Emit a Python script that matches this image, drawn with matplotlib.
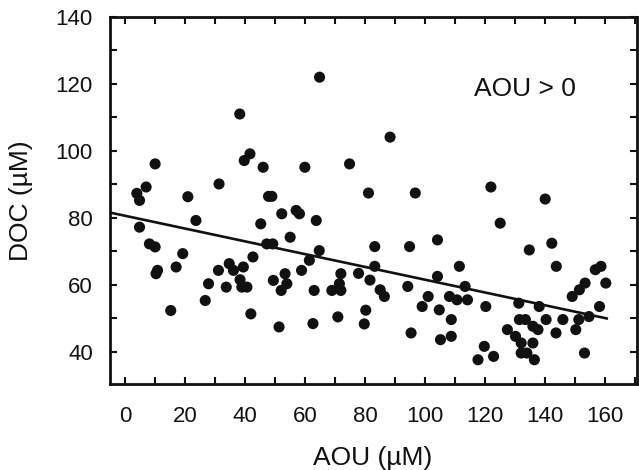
import matplotlib
matplotlib.use("Agg")
import matplotlib.pyplot as plt
import numpy as np
from matplotlib.ticker import MultipleLocator

plt.rcParams['font.family'] = ['Liberation Sans', 'DejaVu Sans']

aou = [3.9, 4.8, 7.0, 10.0, 20.9, 31.3, 38.2, 39.7, 41.6, 46.0, 47.8, 48.9, 59.9, 64.8, 74.8,
       81.1, 88.3, 96.7, 121.9, 140.0, 4.8, 23.6, 8.1, 10.0, 19.2, 10.8, 10.3, 17.0, 15.2, 27.8,
       26.7, 31.1, 33.7, 34.7, 36.1, 38.3, 39.4, 38.9, 40.6, 42.6, 41.9, 45.2, 47.2, 49.2, 52.2,
       57.0, 58.1, 55.0, 63.7, 64.7, 61.4, 58.8, 53.3, 53.9, 52.0, 49.4, 51.3, 63.0, 62.6, 71.9,
       71.4, 71.9, 68.9, 70.9, 77.8, 80.2, 79.7, 81.6, 125.0, 104.1, 83.2, 94.8, 134.7, 142.2,
       143.7, 83.2, 85.0, 86.4, 94.2, 95.3, 99.0, 101.0, 104.1, 104.7, 105.1, 108.7, 108.7, 111.4,
       108.1, 110.6, 113.3, 114.1, 120.2, 119.7, 117.6, 122.8, 127.4, 130.1, 131.2, 131.4, 133.4,
       132.0, 132.0, 133.9, 135.9, 137.6, 135.9, 136.4, 138.0, 140.3, 143.6, 145.9, 149.0, 151.4,
       153.3, 150.2, 151.2, 154.6, 153.1, 156.7, 158.6, 160.2, 158.1]
doc = [87.3, 85.2, 89.2, 96.1, 86.3, 90.1, 111.0, 97.1, 99.1, 95.1, 86.4, 86.4, 95.1, 122.0, 96.1,
       87.4, 104.1, 87.4, 89.2, 85.6, 77.2, 79.2, 72.2, 71.3, 69.3, 64.3, 63.3, 65.3, 52.3, 60.3,
       55.3, 64.3, 59.3, 66.3, 64.3, 61.5, 65.3, 59.3, 59.3, 68.3, 51.3, 78.2, 72.2, 72.2, 81.2,
       82.2, 81.2, 74.2, 79.2, 70.2, 67.3, 64.3, 63.3, 60.3, 58.3, 61.3, 47.4, 58.3, 48.4, 63.3,
       60.3, 58.3, 58.3, 50.4, 63.4, 52.4, 48.3, 61.4, 78.4, 73.4, 71.4, 71.4, 70.4, 72.4,
       65.5, 65.5, 58.5, 56.5, 59.5, 45.6, 53.5, 56.5, 62.5, 52.5, 43.6, 49.6, 44.6, 65.5,
       56.5, 55.5, 59.5, 55.5, 53.5, 41.6, 37.6, 38.6, 46.6, 44.6, 54.5, 49.6, 49.6,
       42.6, 39.6, 39.6, 47.6, 46.6, 42.6, 37.6, 53.5, 49.6, 45.6, 49.6, 56.5, 58.5,
       60.5, 46.6, 49.6, 50.5, 39.6, 64.5, 65.5, 60.5, 53.5]

fit_intercept = 80.6
fit_slope = -0.191
fit_range = [-4.5, 160.5]

x_ticks = [0, 20, 40, 60, 80, 100, 120, 140, 160]
y_ticks = [40, 60, 80, 100, 120, 140]

fig = plt.figure(figsize=(6.39, 4.70), dpi=100)
ax = fig.add_axes([0.1714, 0.184, 0.825, 0.780])

ax.scatter(aou, doc, s=64, color='#111111', edgecolors='none', zorder=3)
lx = np.array(fit_range)
ax.plot(lx, fit_intercept + fit_slope * lx, color='#111111', lw=1.9, zorder=2)

ax.set_xlim(-5.2, 170.5)
ax.set_ylim(30.5, 140)
ax.set_xticks(x_ticks)
ax.set_yticks(y_ticks)
ax.xaxis.set_minor_locator(MultipleLocator(10))
ax.yaxis.set_minor_locator(MultipleLocator(10))
ax.tick_params(which='both', direction='in', top=True, right=True, length=5, width=1.5,
               color='#111111')
ax.tick_params(axis='x', which='major', labelsize=16, pad=16, labelcolor='#111111')
ax.tick_params(axis='y', which='major', labelsize=16, pad=12, labelcolor='#111111')
for sp in ax.spines.values():
    sp.set_linewidth(2.0)
    sp.set_color('#111111')

ax.set_xlabel('AOU (µM)', fontsize=19, labelpad=14, color='#111111')
ax.set_ylabel('DOC (µM)', fontsize=19, color='#111111')
ax.yaxis.set_label_coords(-0.145, 0.5)

ax.text(133.3, 118.4, 'AOU > 0', fontsize=19, ha='center', va='center', color='#111111')

fig.savefig('out.png', dpi=100)
